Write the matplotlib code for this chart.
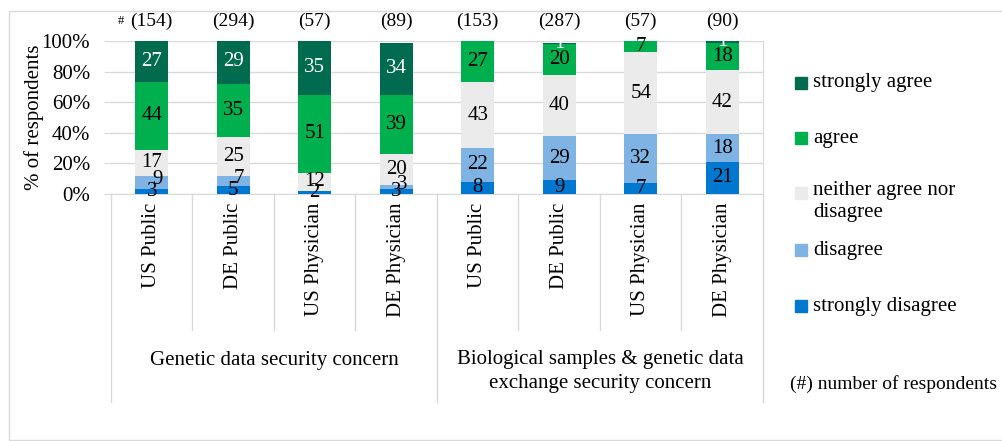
import matplotlib.pyplot as plt
import matplotlib.patches as mpatches
import numpy as np

plt.rcParams['font.family'] = ['Liberation Serif', 'DejaVu Serif']

groups = ['Genetic data security concern',
          'Biological samples & genetic data\nexchange security concern']
cats = ['US Public', 'DE Public', 'US Physician', 'DE Physician',
        'US Public', 'DE Public', 'US Physician', 'DE Physician']
counts = [154, 294, 57, 89, 153, 287, 57, 90]

# stacked bottom -> top
strongly_disagree = [3, 5, 2, 3, 8, 9, 7, 21]
disagree = [9, 7, 0, 3, 22, 29, 32, 18]
neither = [17, 25, 12, 20, 43, 40, 54, 42]
agree = [44, 35, 51, 39, 27, 20, 7, 18]
strongly_agree = [27, 29, 35, 34, 0, 1, 0, 1]

series = [
    ('strongly disagree', strongly_disagree, '#0078CF', 'black'),
    ('disagree', disagree, '#7EB3E3', 'black'),
    ('neither agree nor\ndisagree', neither, '#EBEBEB', 'black'),
    ('agree', agree, '#00B04F', 'black'),
    ('strongly agree', strongly_agree, '#006B4F', 'white'),
]

W, H = 1003, 441
fig = plt.figure(figsize=(W / 100, H / 100), dpi=100)
ax = fig.add_axes([111 / W, 1 - 194 / H, 652 / W, 153 / H])

grey = '#D9D9D9'
fs = 15
x = np.arange(len(cats))
bottom = np.zeros(len(cats))
for k, (name, vals, col, tcol) in enumerate(series):
    vals = np.array(vals, dtype=float)
    ax.bar(x, vals, 0.4, bottom=bottom, color=col, zorder=3)
    for xi, b, v in zip(x, bottom, vals):
        if v <= 0:
            continue
        # small labels near the base get pushed apart like in the original
        dx, dy = 0, 0
        if k == 1 and v < 10:
            dx, dy = 4, 2
        ax.annotate(f'{int(v)}', (xi, b + v / 2), xytext=(dx, dy),
                    textcoords='offset points', ha='center', va='center',
                    fontsize=fs, color=tcol, zorder=4)
    bottom += vals

ax.set_xlim(-0.5, len(cats) - 0.5)
ax.set_ylim(0, 100)
ax.set_yticks(range(0, 101, 20))
ax.set_yticklabels([f'{v}%' for v in range(0, 101, 20)])
ax.tick_params(axis='y', length=5, color=grey, labelsize=fs, pad=10)
ax.set_xticks(x)
ax.set_xticklabels(cats, rotation=90, fontsize=fs)
ax.tick_params(axis='x', length=0, pad=6)
ax.grid(axis='y', color=grey, linewidth=1, zorder=0)
ax.set_axisbelow(True)
for s in ['top', 'left']:
    ax.spines[s].set_visible(False)
for s in ['bottom', 'right']:
    ax.spines[s].set_color(grey)
ax.set_ylabel('% of respondents', fontsize=fs, labelpad=-2)

# category separators under the axis
tr = ax.get_xaxis_transform()
for b in np.arange(-0.5, len(cats), 1):
    y_end = -1.36 if b in (-0.5, 3.5, 7.5) else -0.889
    ax.plot([b, b], [0, y_end], transform=tr, color=grey, lw=1,
            clip_on=False)

ax.text(1.5, (194 - 360) / 153, groups[0], transform=tr, ha='center',
        va='center', fontsize=fs)
ax.text(5.5, (194 - 371.5) / 153, groups[1], transform=tr, ha='center',
        va='center', fontsize=fs, linespacing=1.3)

# respondent counts
for xi, n in zip(x, counts):
    ax.text(xi, 113, f'({n})', ha='center', va='center', fontsize=14,
            clip_on=False)
ax.text(-0.38, 113, '#', ha='center', va='center', fontsize=9)

# legend
leg_y = [83, 138, 193, 250, 306]
for (name, vals, col, tcol), yy in zip(series[::-1], leg_y):
    fig.add_artist(mpatches.Rectangle((795 / W, 1 - (yy + 6) / H),
                                      12 / W, 12 / H, color=col,
                                      transform=fig.transFigure))
    if '\n' in name:
        fig.text(813 / W, 1 - (yy - 12) / H, name, ha='left', va='top',
                 fontsize=fs, linespacing=1.25)
    else:
        fig.text(813 / W, 1 - yy / H, name, ha='left', va='center',
                 fontsize=fs)
fig.text(790 / W, 1 - 384 / H, '(#) number of respondents', ha='left',
         va='center', fontsize=14)

# outer frame
fig.add_artist(mpatches.Rectangle((9 / W, 1 - 440 / H), 1.2, 429 / H,
                                  fill=False, edgecolor=grey, lw=1,
                                  transform=fig.transFigure))

fig.savefig('out.png', dpi=100)
